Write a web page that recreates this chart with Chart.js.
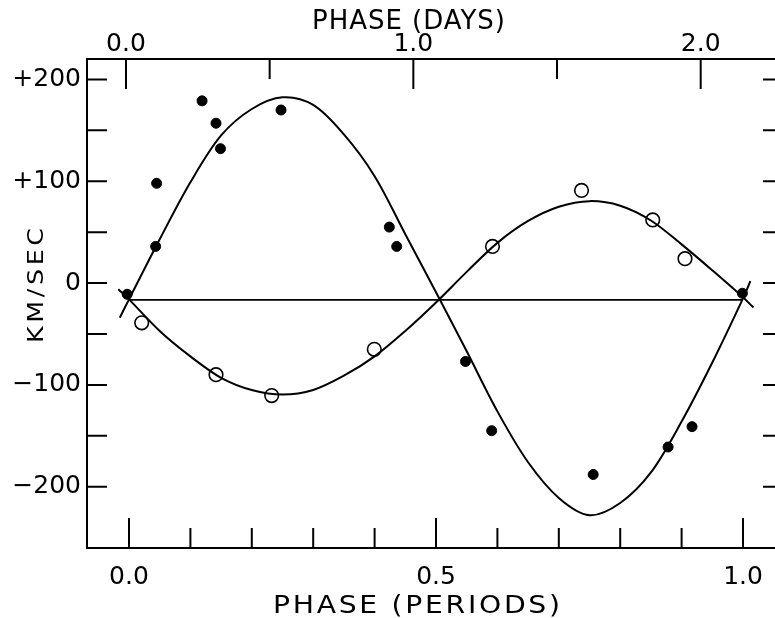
<!DOCTYPE html>
<html><head><meta charset="utf-8">
<script src="https://cdn.jsdelivr.net/npm/chart.js@4.4.1/dist/chart.umd.min.js"></script>
<style>html,body{margin:0;padding:0;background:#fff;overflow:hidden}</style>
</head><body>
<canvas id="c" width="775" height="618"></canvas>
<script>
// ---- tick labels ----
const phaseTickValues = [0, 0.5, 1.0];
const phaseTickLabels = ['0.0', '0.5', '1.0'];
const dayTickValues = [0, 1, 2];
const dayTickLabels = ['0.0', '1.0', '2.0'];
const velocityTickValues = [200, 100, 0, -100, -200];
const velocityTickLabels = ['+200', '+100', '0', '−100', '−200'];
const phaseMinorTicks = [0, 0.1, 0.2, 0.3, 0.4, 0.5, 0.6, 0.7, 0.8, 0.9, 1.0];
const phaseMajorTicks = [0, 0.5, 1.0];
const dayMinorTicks = [0, 0.5, 1, 1.5, 2];
const dayMajorTicks = [0, 1, 2];
const velocityMinorTicks = [200, 150, 100, 50, 0, -50, -100, -150, -200];

// ---- titles ----
const titleTop = 'PHASE (DAYS)';
const titleBottom = 'PHASE (PERIODS)';
const titleLeft = 'KM/SEC';

// ---- observations: primary (filled dots) ----
const primaryObsPhase = [-0.003, 0.0434, 0.045, 0.119, 0.1417, 0.149, 0.2476, 0.424, 0.436, 0.548, 0.5907, 0.756, 0.878, 0.917, 0.999];
const primaryObsVel   = [-11, 36, 98, 179, 157, 132, 170, 55, 36, -77, -145, -188, -161, -141, -10];

// ---- observations: secondary (open circles) ----
const secondaryObsPhase = [0.0207, 0.1417, 0.2324, 0.3995, 0.592, 0.737, 0.853, 0.9055];
const secondaryObsVel   = [-39, -90, -110.5, -65, 36, 91, 62, 24];

// ---- fitted velocity curves ----
const primaryCurvePhase = [-0.015, 0, 0.05, 0.10, 0.15, 0.20, 0.25, 0.30, 0.35, 0.40, 0.45, 0.50, 0.55, 0.60, 0.65, 0.70, 0.75, 0.80, 0.85, 0.90, 0.95, 1.00, 1.012];
const primaryCurveVel   = [-34, -16, 43, 99, 145, 171, 182.5, 175, 146, 105, 48, -9, -67, -126, -176, -211, -228, -216, -186, -136, -78, -15, 2];
const secondaryCurvePhase = [-0.0174, 0, 0.05, 0.10, 0.15, 0.20, 0.25, 0.30, 0.35, 0.40, 0.45, 0.50, 0.55, 0.60, 0.65, 0.70, 0.75, 0.80, 0.85, 0.90, 0.95, 1.00, 1.017];
const secondaryCurveVel   = [-6, -16, -47, -72, -93, -105, -109.5, -105, -91, -72, -47, -19, 11, 39.5, 61, 75, 80.5, 76, 61.5, 38, 12.5, -14, -24];
const gammaPhase = [0, 1.0];
const gammaVel = [-16.5, -16.5];

const pts = (xs, ys) => xs.map((x, i) => ({x: x, y: ys[i]}));

const FONT = '"DejaVu Sans", "Liberation Sans", sans-serif';
Chart.defaults.font.family = FONT;
Chart.defaults.color = '#000';

const tickMarks = {
  id: 'tickMarks',
  afterDraw(chart) {
    const {ctx, chartArea: a, scales} = chart;
    const rightEdge = a.right + 8; // frame's right edge lies just beyond the picture
    ctx.save();
    ctx.strokeStyle = '#000';
    ctx.lineWidth = 2;
    ctx.beginPath();
    phaseMinorTicks.forEach(v => {
      const px = scales.x.getPixelForValue(v);
      const L = phaseMajorTicks.includes(v) ? 30 : 20;
      ctx.moveTo(px, a.bottom); ctx.lineTo(px, a.bottom - L);
    });
    dayMinorTicks.forEach(d => {
      const px = scales.x2.getPixelForValue(d);
      const L = dayMajorTicks.includes(d) ? 30 : 20;
      ctx.moveTo(px, a.top); ctx.lineTo(px, a.top + L);
    });
    velocityMinorTicks.forEach(v => {
      const py = scales.y.getPixelForValue(v);
      ctx.moveTo(a.left, py); ctx.lineTo(a.left + 20, py);
      ctx.moveTo(rightEdge, py); ctx.lineTo(rightEdge - 20, py);
    });
    ctx.stroke();
    ctx.restore();
  }
};

function drawWide(ctx, text, size, x, y, target, sx) {
  ctx.font = size + 'px ' + FONT;
  if ('letterSpacing' in ctx) ctx.letterSpacing = '0px';
  const w = ctx.measureText(text).width;
  ctx.save();
  ctx.translate(x, y);
  if ('letterSpacing' in ctx) {
    ctx.scale(sx, 1);
    ctx.letterSpacing = ((target / sx - w) / (text.length - 1)) + 'px';
  } else {
    ctx.scale(target / w, 1);
  }
  ctx.fillText(text, 0, 0);
  ctx.restore();
}

const axisTitles = {
  id: 'axisTitles',
  afterDraw(chart) {
    const ctx = chart.ctx;
    ctx.save();
    ctx.fillStyle = '#000';
    ctx.textAlign = 'left';
    ctx.textBaseline = 'alphabetic';
    drawWide(ctx, titleTop, 26, 312, 29.3, 193, 1.0);
    drawWide(ctx, titleBottom, 25, 273, 613, 287, 1.13);
    ctx.save();
    ctx.translate(43, 343);
    ctx.rotate(-Math.PI / 2);
    drawWide(ctx, titleLeft, 22, 0, 0, 115, 1.15);
    ctx.restore();
    ctx.restore();
  }
};

const noSidePad = s => { s.paddingLeft = 0; s.paddingRight = 0; };
const lineStyle = {showLine: true, borderColor: '#000', borderWidth: 2, pointRadius: 0, fill: false, tension: 0.33};

new Chart(document.getElementById('c'), {
  type: 'scatter',
  data: {
    datasets: [
      Object.assign({label: 'gamma', data: pts(gammaPhase, gammaVel)}, lineStyle, {borderWidth: 1.8, tension: 0}),
      Object.assign({label: 'primary orbit', data: pts(primaryCurvePhase, primaryCurveVel)}, lineStyle),
      Object.assign({label: 'secondary orbit', data: pts(secondaryCurvePhase, secondaryCurveVel)}, lineStyle),
      {label: 'secondary', data: pts(secondaryObsPhase, secondaryObsVel), showLine: false, pointRadius: 6.8, pointBackgroundColor: 'rgba(0,0,0,0)', pointBorderColor: '#000', pointBorderWidth: 1.6},
      {label: 'primary', data: pts(primaryObsPhase, primaryObsVel), showLine: false, pointRadius: 5, pointBackgroundColor: '#000', pointBorderColor: '#000', pointBorderWidth: 1}
    ]
  },
  options: {
    responsive: false,
    animation: false,
    devicePixelRatio: 1,
    layout: {padding: 0, autoPadding: false},
    plugins: {legend: {display: false}, tooltip: {enabled: false}},
    scales: {
      x: {
        type: 'linear', position: 'bottom', min: -0.0684, max: 1.0521,
        afterBuildTicks: s => { s.ticks = phaseTickValues.map(v => ({value: v})); },
        afterFit: s => { s.height = 70; noSidePad(s); },
        ticks: {autoSkip: false, maxRotation: 0, padding: 14, font: {size: 25},
          callback: v => phaseTickLabels[phaseTickValues.indexOf(v)]},
        grid: {display: true, drawOnChartArea: false, drawTicks: false},
        border: {display: true, color: '#000', width: 2}
      },
      x2: {
        type: 'linear', position: 'top', min: -0.1357, max: 2.2586,
        afterBuildTicks: s => { s.ticks = dayTickValues.map(v => ({value: v})); },
        afterFit: s => { s.height = 59; noSidePad(s); },
        ticks: {autoSkip: false, maxRotation: 0, padding: 0, font: {size: 25},
          callback: v => dayTickLabels[dayTickValues.indexOf(v)]},
        grid: {display: true, drawOnChartArea: false, drawTicks: false},
        border: {display: true, color: '#000', width: 2}
      },
      y: {
        type: 'linear', position: 'left', min: -260.2, max: 220.1,
        afterBuildTicks: s => { s.ticks = velocityTickValues.map(v => ({value: v})); },
        afterFit: s => { s.width = 87; s.paddingTop = 0; s.paddingBottom = 0; },
        ticks: {autoSkip: false, padding: 6, font: {size: 25},
          callback: v => velocityTickLabels[velocityTickValues.indexOf(v)]},
        grid: {display: true, drawOnChartArea: false, drawTicks: false},
        border: {display: true, color: '#000', width: 2}
      }
    }
  },
  plugins: [tickMarks, axisTitles]
});
</script>
</body></html>
